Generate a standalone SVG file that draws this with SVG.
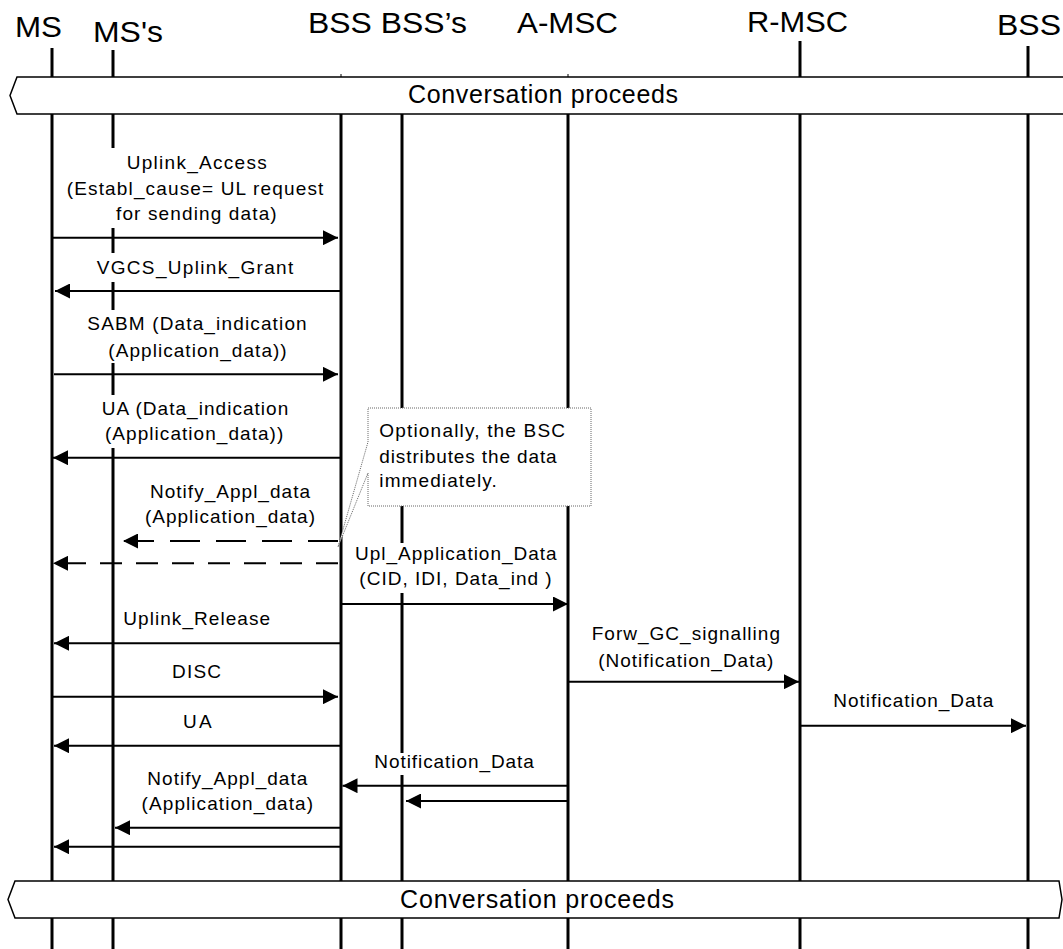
<svg xmlns="http://www.w3.org/2000/svg" width="1063" height="949" viewBox="0 0 1063 949">
<style>
.ll{stroke:#000;stroke-width:3;fill:none}
.hdr{font-family:"Liberation Sans",Arial,sans-serif;font-size:29px;fill:#000}
.lbl{font-family:"Liberation Sans",Arial,sans-serif;font-size:19px;fill:#000}
.band{font-family:"Liberation Sans",Arial,sans-serif;font-size:25px;fill:#000}
.msg{stroke:#000;stroke-width:2;fill:none;marker-end:url(#ah)}
.dash{stroke-dasharray:30 16}
.dash2{stroke-dasharray:22 14}
.bx{fill:#fff;stroke:none}
.bandshape{fill:#fff;stroke:#000;stroke-width:1.5}
</style>
<defs>
<marker id="ah" markerUnits="userSpaceOnUse" markerWidth="15" markerHeight="15" refX="15" refY="7.5" orient="auto">
<path d="M0,0 L15,7.5 L0,15 z" fill="#000"/>
</marker>
</defs>
<rect width="1063" height="949" fill="#fff"/>
<g id="lifelines">
<g id="node-MS"><text class="hdr" x="15" y="37" textLength="47" lengthAdjust="spacingAndGlyphs">MS</text><line class="ll" x1="52" y1="48" x2="52" y2="949"/></g>
<g id="node-MSs"><text class="hdr" x="93" y="42" textLength="70" lengthAdjust="spacingAndGlyphs">MS's</text><line class="ll" x1="113" y1="50" x2="113" y2="949"/></g>
<g id="node-BSS"><text class="hdr" x="308" y="33" textLength="159" lengthAdjust="spacingAndGlyphs">BSS BSS’s</text><line class="ll" x1="341" y1="114" x2="341" y2="949"/><line stroke="#000" stroke-width="1" x1="341" y1="74" x2="341" y2="77"/></g>
<g id="node-BSSs"><line class="ll" x1="402" y1="114" x2="402" y2="949"/></g>
<g id="node-AMSC"><text class="hdr" x="517" y="33" textLength="101" lengthAdjust="spacingAndGlyphs">A-MSC</text><line class="ll" x1="568" y1="114" x2="568" y2="949"/><line stroke="#000" stroke-width="1" x1="568" y1="74" x2="568" y2="77"/></g>
<g id="node-RMSC"><text class="hdr" x="747" y="32" textLength="101" lengthAdjust="spacingAndGlyphs">R-MSC</text><line class="ll" x1="800" y1="41" x2="800" y2="949"/></g>
<g id="node-BSS2"><text class="hdr" x="997" y="35" textLength="64" lengthAdjust="spacingAndGlyphs">BSS</text><line class="ll" x1="1028" y1="46" x2="1028" y2="949"/></g>
</g>
<g id="label-boxes">
<rect class="bx" x="58" y="148" width="273" height="80"/>
<rect class="bx" x="88" y="253" width="214" height="29"/>
<rect class="bx" x="79" y="310" width="236" height="53"/>
<rect class="bx" x="93" y="395" width="204" height="53"/>
<rect class="bx" x="350" y="543" width="212" height="50"/>
<rect class="bx" x="368" y="753" width="172" height="22"/>
</g>
<g id="note">
<path d="M368,408 H591 V506 H368 V473 L338,547 L368,442 Z" fill="#fff" stroke="#666" stroke-width="1" stroke-dasharray="1 1"/>
<text class="lbl" x="379.3" y="437.3" textLength="185.7" lengthAdjust="spacing">Optionally, the BSC</text>
<text class="lbl" x="379.3" y="462.7" textLength="177.4" lengthAdjust="spacing">distributes the data</text>
<text class="lbl" x="379.3" y="487.3" textLength="117.4" lengthAdjust="spacing">immediately.</text>
</g>
<g id="connectors">
<g id="m1"><text class="lbl" x="126.7" y="169.3" textLength="140" lengthAdjust="spacing">Uplink_Access</text><text class="lbl" x="66.7" y="195" textLength="256.6" lengthAdjust="spacing">(Establ_cause= UL request</text><text class="lbl" x="116" y="220" textLength="160.7" lengthAdjust="spacing">for sending data)</text><line class="msg" x1="53" y1="237.7" x2="338" y2="237.7"/></g>
<g id="m2"><text class="lbl" x="96.7" y="274" textLength="196.6" lengthAdjust="spacing">VGCS_Uplink_Grant</text><line class="msg" x1="340" y1="291" x2="55" y2="291"/></g>
<g id="m3"><text class="lbl" x="87.3" y="330" textLength="219.4" lengthAdjust="spacing">SABM (Data_indication</text><text class="lbl" x="108.3" y="356.7" textLength="178.4" lengthAdjust="spacing">(Application_data))</text><line class="msg" x1="54" y1="374.3" x2="338" y2="374.3"/></g>
<g id="m4"><text class="lbl" x="101.7" y="415" textLength="186.6" lengthAdjust="spacing">UA (Data_indication</text><text class="lbl" x="105" y="440" textLength="178.3" lengthAdjust="spacing">(Application_data))</text><line class="msg" x1="340" y1="457.7" x2="53" y2="457.7"/></g>
<g id="m5"><text class="lbl" x="150" y="498.3" textLength="160" lengthAdjust="spacing">Notify_Appl_data</text><text class="lbl" x="145" y="522.7" textLength="170" lengthAdjust="spacing">(Application_data)</text><line class="msg dash" x1="338" y1="541" x2="123" y2="541"/></g>
<g id="m6"><line class="msg dash2" x1="338" y1="563.3" x2="53" y2="563.3"/></g>
<g id="m7"><text class="lbl" x="355" y="560" textLength="201.7" lengthAdjust="spacing">Upl_Application_Data</text><text class="lbl" x="359.3" y="585" textLength="192.4" lengthAdjust="spacing">(CID, IDI, Data_ind )</text><line class="msg" x1="341" y1="604" x2="568" y2="604"/></g>
<g id="m8"><text class="lbl" x="123.3" y="625" textLength="146.7" lengthAdjust="spacing">Uplink_Release</text><line class="msg" x1="340" y1="643.3" x2="54" y2="643.3"/></g>
<g id="m9"><text class="lbl" x="591.7" y="640" textLength="188.3" lengthAdjust="spacing">Forw_GC_signalling</text><text class="lbl" x="598.3" y="666.7" textLength="175" lengthAdjust="spacing">(Notification_Data)</text><line class="msg" x1="568" y1="681.7" x2="799" y2="681.7"/></g>
<g id="m10"><text class="lbl" x="172" y="678.3" textLength="49" lengthAdjust="spacing">DISC</text><line class="msg" x1="53" y1="696.7" x2="338" y2="696.7"/></g>
<g id="m11"><text class="lbl" x="833.3" y="707.3" textLength="160" lengthAdjust="spacing">Notification_Data</text><line class="msg" x1="801" y1="725.7" x2="1026" y2="725.7"/></g>
<g id="m12"><text class="lbl" x="183" y="728.3" textLength="28.6" lengthAdjust="spacing">UA</text><line class="msg" x1="340" y1="745.7" x2="54" y2="745.7"/></g>
<g id="m13"><text class="lbl" x="374.3" y="768.3" textLength="159.6" lengthAdjust="spacing">Notification_Data</text><line class="msg" x1="567" y1="785.7" x2="342.5" y2="785.7"/></g>
<g id="m14"><line class="msg" x1="567" y1="801" x2="406" y2="801"/></g>
<g id="m15"><text class="lbl" x="147.3" y="785" textLength="160" lengthAdjust="spacing">Notify_Appl_data</text><text class="lbl" x="141.6" y="810" textLength="171.4" lengthAdjust="spacing">(Application_data)</text><line class="msg" x1="340" y1="827.7" x2="115" y2="827.7"/></g>
<g id="m16"><line class="msg" x1="340" y1="846.7" x2="54" y2="846.7"/></g>
</g>
<g id="band-top">
<path class="bandshape" d="M17,77 H1070 V114 H17 L10,95.5 Z"/>
<text class="band" x="408" y="103" textLength="270" lengthAdjust="spacing">Conversation proceeds</text>
</g>
<g id="band-bottom">
<path class="bandshape" d="M15,881 H1059 L1062,899.5 L1059,918 H15 L8,899.5 Z"/>
<text class="band" x="400" y="907.5" textLength="274" lengthAdjust="spacing">Conversation proceeds</text>
</g>
</svg>
